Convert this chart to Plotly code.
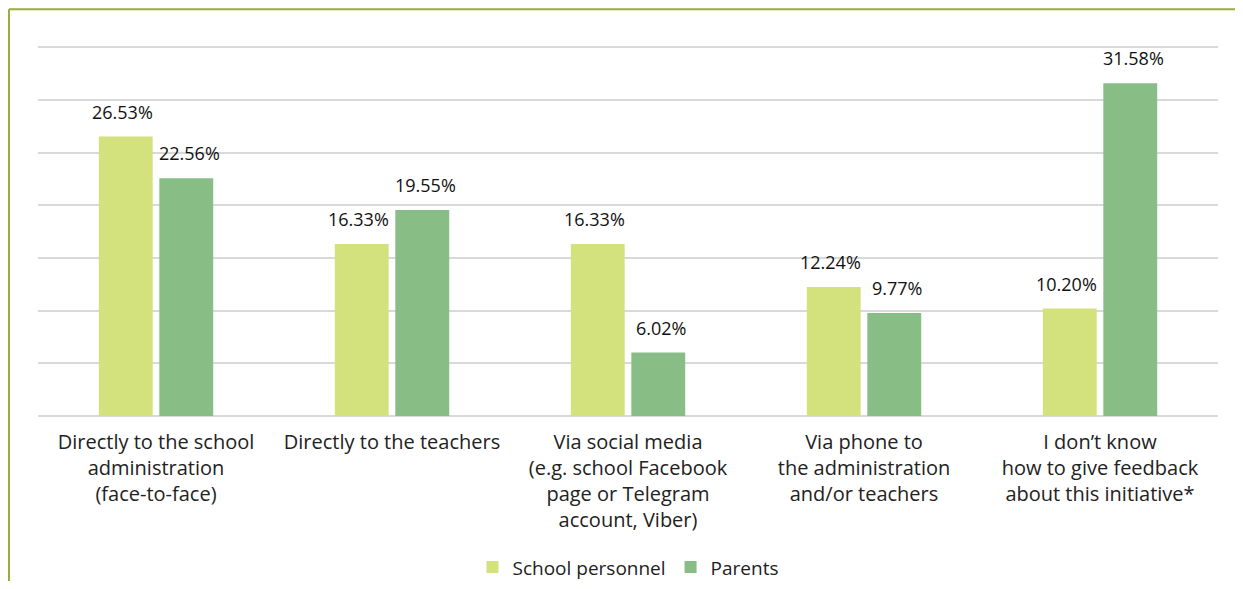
import plotly.graph_objects as go

categories = [
    "Directly to the school<br>administration<br>(face-to-face)",
    "Directly to the teachers",
    "Via social media<br>(e.g. school Facebook<br>page or Telegram<br>account, Viber)",
    "Via phone to<br>the administration<br>and/or teachers",
    "I don\u2019t know<br>how to give feedback<br>about this initiative*",
]
school_personnel = [26.53, 16.33, 16.33, 12.24, 10.20]
parents = [22.56, 19.55, 6.02, 9.77, 31.58]

YELLOW = "#d3e27d"
GREEN = "#88bd85"
FONT = "Open Sans, sans-serif"

fig = go.Figure()
fig.add_trace(go.Bar(name="School personnel", x=categories, y=school_personnel,
                     marker=dict(color=YELLOW, line_width=0)))
fig.add_trace(go.Bar(name="Parents", x=categories, y=parents,
                     marker=dict(color=GREEN, line_width=0)))

# value labels above each bar
for series, shift in [(school_personnel, -34), (parents, 33)]:
    for cat, val in zip(categories, series):
        fig.add_annotation(x=cat, y=val, text=f"{val:.2f}%", showarrow=False,
                           xshift=shift, yshift=25,
                           font=dict(family=FONT, size=18, color="#111111"))

# olive frame on left and top
frame = "#9aab3c"
fig.add_shape(type="line", xref="paper", yref="paper", x0=-0.0246, x1=-0.0246,
              y0=1.0874, y1=-0.6, line=dict(color=frame, width=2))
fig.add_shape(type="line", xref="paper", yref="paper", x0=-0.0246, x1=1.05,
              y0=1.0874, y1=1.0874, line=dict(color=frame, width=2))

fig.update_layout(
    width=1227, height=573,
    margin=dict(l=30, r=17, t=34, b=165, autoexpand=False),
    barmode="group", bargap=0.487, bargroupgap=0.11,
    plot_bgcolor="white", paper_bgcolor="white",
    font=dict(family=FONT, color="#222222"),
    showlegend=True,
    legend=dict(orientation="h", x=0.5, xanchor="center",
                yref="container", y=0.024, yanchor="middle",
                font=dict(size=19, family=FONT), itemwidth=30,
                traceorder="normal"),
)
fig.update_xaxes(tickfont=dict(size=20, family=FONT, color="#222222"),
                 showline=False, ticks="", ticklabelstandoff=12, automargin=False)
fig.update_yaxes(range=[0, 35.5], dtick=5, showticklabels=False, automargin=False,
                 gridcolor="#d9d9d9", gridwidth=1.5,
                 zeroline=True, zerolinecolor="#d9d9d9", zerolinewidth=1.5)

fig.write_html("out.html")
